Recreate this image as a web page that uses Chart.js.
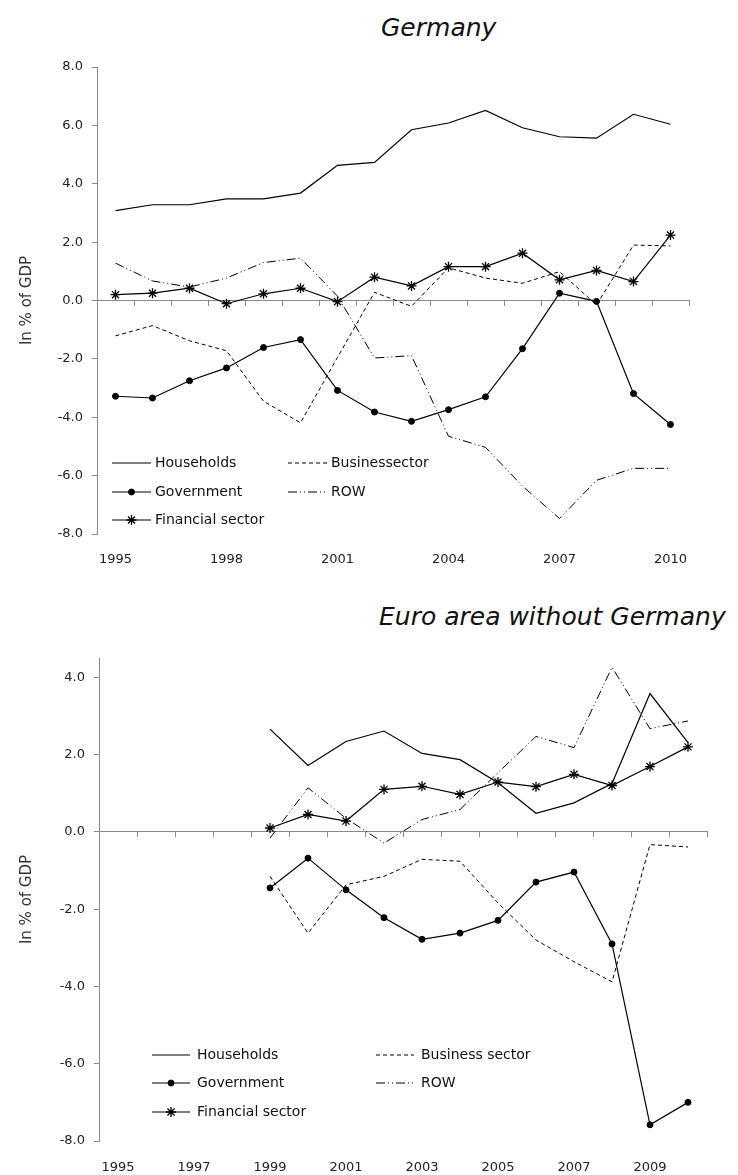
<!DOCTYPE html>
<html>
<head>
<meta charset="utf-8">
<script src="https://cdn.jsdelivr.net/npm/chart.js@4/dist/chart.umd.min.js"></script>
<style>
  body { margin: 0; background: #fff; }
  .wrap { position: relative; width: 738px; height: 1175px; }
  .title { position: absolute; font-family: "DejaVu Sans", sans-serif; font-style: italic; font-size: 25px; line-height: 25px; color: #111; white-space: nowrap; }
  canvas { position: absolute; left: 0; }
</style>
</head>
<body>
<div class="wrap">
  <div class="title" style="left:381px; top:15px;">Germany</div>
  <canvas id="deChart" width="738" height="580" style="top:0"></canvas>
  <div class="title" style="left:379px; top:604px;">Euro area without Germany</div>
  <canvas id="eaChart" width="738" height="595" style="top:580px"></canvas>
</div>
<script>
// categories
const years = ['1995', '1996', '1997', '1998', '1999', '2000', '2001', '2002',
               '2003', '2004', '2005', '2006', '2007', '2008', '2009', '2010'];

// Germany, in % of GDP
const deHouseholds = [3.08, 3.28, 3.28, 3.48, 3.48, 3.68, 4.63, 4.73, 5.85, 6.08, 6.51, 5.92, 5.61, 5.56, 6.38, 6.04];
const deBusiness   = [-1.21, -0.86, -1.38, -1.72, -3.45, -4.19, -1.95, 0.28, -0.2, 1.12, 0.77, 0.59, 0.99, -0.15, 1.9, 1.87];
const deGovernment = [-3.28, -3.34, -2.75, -2.31, -1.61, -1.34, -3.08, -3.82, -4.14, -3.74, -3.3, -1.65, 0.25, -0.03, -3.19, -4.25];
const deRow        = [1.28, 0.67, 0.46, 0.77, 1.3, 1.45, 0.15, -1.97, -1.89, -4.65, -5.03, -6.36, -7.47, -6.16, -5.75, -5.75];
const deFinancial  = [0.2, 0.25, 0.42, -0.11, 0.23, 0.42, -0.04, 0.8, 0.5, 1.16, 1.16, 1.62, 0.71, 1.03, 0.65, 2.24];

// Euro area without Germany, in % of GDP (from 1999)
const eaHouseholds = [null, null, null, null, 2.66, 1.72, 2.34, 2.61, 2.03, 1.87, 1.27, 0.48, 0.75, 1.25, 3.58, 2.31];
const eaBusiness   = [null, null, null, null, -1.15, -2.62, -1.37, -1.15, -0.71, -0.76, -1.84, -2.8, -3.36, -3.88, -0.33, -0.39];
const eaGovernment = [null, null, null, null, -1.45, -0.68, -1.5, -2.22, -2.78, -2.62, -2.29, -1.3, -1.04, -2.9, -7.58, -7.0];
const eaRow        = [null, null, null, null, -0.16, 1.14, 0.35, -0.29, 0.32, 0.58, 1.53, 2.47, 2.18, 4.26, 2.67, 2.87];
const eaFinancial  = [null, null, null, null, 0.1, 0.45, 0.28, 1.1, 1.18, 0.97, 1.29, 1.17, 1.49, 1.2, 1.69, 2.2];

Chart.defaults.font.family = '"DejaVu Sans", sans-serif';
Chart.defaults.font.size = 13;
Chart.defaults.color = '#222';

const axisGray = '#8a8a8a';

// legend drawn inside the plot area, two columns
const insideLegend = {
    id: 'insideLegend',
    afterDatasetsDraw(chart, args, opts) {
        const ctx = chart.ctx;
        const area = chart.chartArea;
        ctx.save();
        ctx.font = '14px "DejaVu Sans", sans-serif';
        ctx.textBaseline = 'middle';
        chart.data.datasets.forEach(function(ds, i) {
            const x0 = area.left + opts.cols[i % 2];
            const x1 = x0 + opts.lineLength;
            const y = area.bottom - opts.rows[Math.floor(i / 2)];
            ctx.strokeStyle = ds.borderColor;
            ctx.lineWidth = ds.borderWidth;
            ctx.setLineDash(ds.borderDash || []);
            ctx.beginPath();
            ctx.moveTo(x0, y);
            ctx.lineTo(x1, y);
            ctx.stroke();
            ctx.setLineDash([]);
            if (ds.pointRadius > 0) {
                ctx.fillStyle = ds.pointBackgroundColor;
                ctx.strokeStyle = ds.pointBorderColor;
                ctx.lineWidth = ds.pointBorderWidth;
                Chart.helpers.drawPoint(ctx, {
                    pointStyle: ds.pointStyle,
                    radius: ds.pointRadius,
                    rotation: 0,
                    borderWidth: ds.pointBorderWidth
                }, (x0 + x1) / 2, y);
            }
            ctx.fillStyle = '#111';
            ctx.fillText(ds.label, x1 + opts.gap, y);
        });
        ctx.restore();
    }
};

function makeDatasets(labels, h, b, g, r, f) {
    return [
        { label: labels[0], data: h, borderColor: '#000', borderWidth: 1.2, pointRadius: 0 },
        { label: labels[1], data: b, borderColor: '#000', borderWidth: 1, borderDash: [4, 3], pointRadius: 0 },
        { label: labels[2], data: g, borderColor: '#000', borderWidth: 1.2, pointRadius: 3,
          pointStyle: 'circle', pointBackgroundColor: '#000', pointBorderColor: '#000', pointBorderWidth: 1 },
        { label: labels[3], data: r, borderColor: '#000', borderWidth: 1, borderDash: [9, 3, 1, 3, 1, 3], pointRadius: 0 },
        { label: labels[4], data: f, borderColor: '#000', borderWidth: 1.2, pointRadius: 5,
          pointStyle: 'star', pointBackgroundColor: '#000', pointBorderColor: '#000', pointBorderWidth: 1.3 }
    ];
}

function makeOptions(cfg) {
    return {
        responsive: false,
        animation: false,
        layout: { padding: { top: cfg.top, right: cfg.right, left: 0, bottom: 0 } },
        scales: {
            x: {
                type: 'category',
                position: 'bottom',
                offset: true,
                border: { display: false },
                grid: { display: false },
                ticks: {
                    autoSkip: false,
                    maxRotation: 0,
                    padding: cfg.labelPad,
                    font: { size: 13 },
                    callback: function(val, i) { return i % cfg.every === 0 ? this.getLabelForValue(val) : ''; }
                },
                afterFit: function(s) { s.height = cfg.bottomH; }
            },
            xz: {
                type: 'category',
                position: { y: 0 },
                offset: true,
                border: { display: true, color: axisGray, width: 1 },
                grid: { offset: true, drawOnChartArea: false, drawTicks: true, tickLength: 5, color: axisGray },
                ticks: { display: false, autoSkip: false }
            },
            y: {
                min: cfg.min,
                max: cfg.max,
                border: { display: true, color: axisGray, width: 1 },
                grid: { drawOnChartArea: false, tickLength: 5, color: axisGray },
                ticks: {
                    stepSize: 2,
                    includeBounds: false,
                    padding: 9,
                    font: { size: 13 },
                    callback: function(v) { return v.toFixed(1); }
                },
                title: {
                    display: true,
                    text: 'In % of GDP',
                    font: { size: 15 },
                    color: '#333',
                    padding: { top: 18, bottom: 0 }
                },
                afterFit: function(s) { s.width = cfg.leftW; }
            }
        },
        plugins: {
            legend: { display: false },
            tooltip: { enabled: false },
            insideLegend: cfg.legend
        }
    };
}

// Germany
new Chart(document.getElementById('deChart').getContext('2d'), {
    type: 'line',
    data: {
        labels: years,
        datasets: makeDatasets(['Households', 'Businessector', 'Government', 'ROW', 'Financial sector'],
            deHouseholds, deBusiness, deGovernment, deRow, deFinancial)
    },
    options: makeOptions({
        top: 67, right: 49, leftW: 97, bottomH: 46, labelPad: 10, every: 3, min: -8, max: 8,
        legend: { cols: [15, 191], rows: [71, 42, 14], lineLength: 39, gap: 4 }
    }),
    plugins: [insideLegend]
});

// Euro area without Germany
new Chart(document.getElementById('eaChart').getContext('2d'), {
    type: 'line',
    data: {
        labels: years,
        datasets: makeDatasets(['Households', 'Business sector', 'Government', 'ROW', 'Financial sector'],
            eaHouseholds, eaBusiness, eaGovernment, eaRow, eaFinancial)
    },
    options: makeOptions({
        top: 78, right: 31, leftW: 99, bottomH: 34, labelPad: 11, every: 2, min: -8, max: 4.5,
        legend: { cols: [53, 277], rows: [86, 58, 29], lineLength: 38, gap: 7 }
    }),
    plugins: [insideLegend]
});
</script>
</body>
</html>
